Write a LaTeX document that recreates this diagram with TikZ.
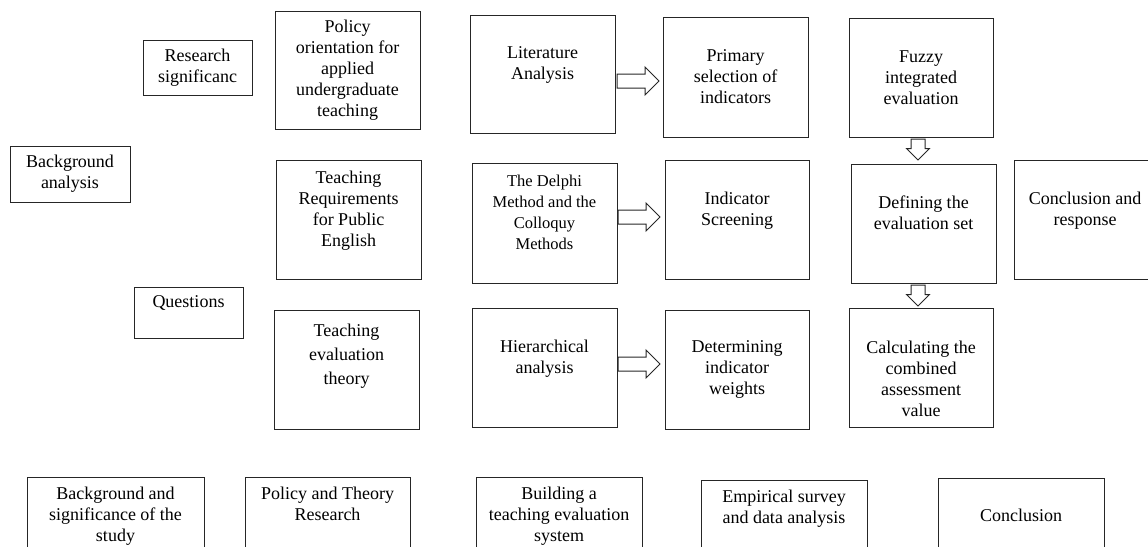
\documentclass[tikz,border=0pt]{standalone}
\usepackage{fontspec}
\setmainfont{Liberation Serif}
\usetikzlibrary{shapes.arrows,calc}

\begin{document}
\begin{tikzpicture}[x=1pt, y=-1pt,
  every node/.style={font=\fontsize{18}{21}\selectfont, align=center},
  box/.style={draw=black!85, line width=1pt, inner sep=4pt},
  bigbox/.style={box, minimum width=145pt, minimum height=119pt},
  foot/.style={box, anchor=north, minimum width=166pt, minimum height=100pt},
  hollow/.style={draw=black!85, line width=1pt, single arrow, anchor=tail, inner sep=6.5pt,
    single arrow head extend=7pt, minimum height=42pt},
  hollowdown/.style={hollow, shape border rotate=270, single arrow head extend=4.5pt, minimum height=20pt}]
  \useasboundingbox (0,0) rectangle (1148,546);
  \clip (0,0) rectangle (1148,546);

  % background column
  \node[box, minimum width=109pt, minimum height=55pt] (signif) at (197.5,67.5) {Research\\significanc};
  \node[box, minimum width=120pt, minimum height=56pt] (backgr) at (70,174) {Background\\analysis};
  \node[box, minimum width=109pt, minimum height=51pt] (quest) at (188.5,312.5) {Questions\\~};

  % policy and theory
  \node[bigbox, minimum height=118pt] (policy) at (347.5,70) {Policy\\orientation for\\applied\\undergraduate\\teaching};
  \node[bigbox] (pubeng) at (348.5,219.5) {Teaching\\Requirements\\for Public\\English\\~};
  \node[bigbox] (evtheory) at (346.5,369.5) {Teaching\\[3pt]evaluation\\[3pt]theory\\[10pt]~};

  % methods
  \node[bigbox, minimum height=118pt] (literature) at (542.5,74) {Literature\\Analysis\\~};
  \node[bigbox, minimum height=120pt, font=\fontsize{16.5}{21}\selectfont] (delphi) at (544.5,223) {The Delphi\\Method and the\\Colloquy\\Methods\\~};
  \node[bigbox] (hierarchy) at (544.5,367.5) {Hierarchical\\analysis\\~};

  % indicator system
  \node[bigbox, minimum height=120pt] (primary) at (735.5,77) {Primary\\selection of\\indicators};
  \node[bigbox, minimum width=144pt] (screening) at (737,219.5) {Indicator\\Screening\\~};
  \node[bigbox, minimum width=144pt] (weights) at (737,369.5) {Determining\\indicator\\weights};

  % fuzzy evaluation
  \node[bigbox, minimum width=144pt] (fuzzy) at (921,77.5) {Fuzzy\\integrated\\evaluation};
  \node[bigbox] (evalset) at (923.5,223.5) {Defining the\\evaluation set\\~};
  \node[bigbox, minimum width=144pt] (combined) at (921,367.5) {\strut\\Calculating the\\combined\\assessment\\value};
  \node[bigbox, minimum width=142pt] (response) at (1085,219.5) {Conclusion and\\response\\~};

  % hollow arrows
  \node[hollow] (arr1) at ($(literature.east)+(1,7)$) {};
  \node[hollow] (arr2) at ($(delphi.east)+(0,-6)$) {};
  \node[hollow] (arr3) at ($(hierarchy.east)+(0,-3.5)$) {};
  \node[hollowdown] (down1) at ($(fuzzy.south)+(-3,1)$) {};
  \node[hollowdown] (down2) at ($(evalset.south)+(-5.5,1)$) {};

  % stage row
  \node[foot, minimum width=177pt] (stage1) at (115.5,477) {Background and\\significance of the\\study\\\strut};
  \node[foot, minimum width=165pt] (stage2) at (327.5,477) {Policy and Theory\\Research\\\strut\\\strut};
  \node[foot] (stage3) at (559,477) {Building a\\teaching evaluation\\system\\\strut};
  \node[foot] (stage4) at (784,480) {Empirical survey\\and data analysis\\\strut\\\strut};
  \node[foot] (stage5) at (1021,478) {Conclusion\\\strut};
\end{tikzpicture}
\end{document}
